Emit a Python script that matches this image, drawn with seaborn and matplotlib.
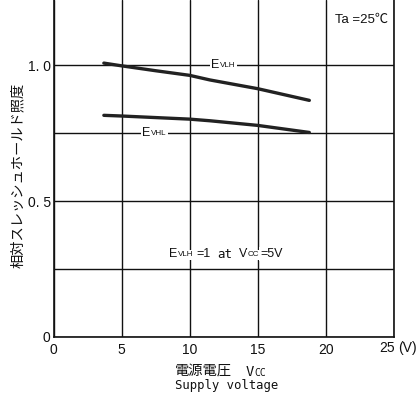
import numpy as np
import pandas as pd
import matplotlib
matplotlib.use("Agg")
import matplotlib.pyplot as plt
import seaborn as sns

################################
# data:
################################

vcc_vlh = [3.7, 5.0, 7.5, 10.0, 11.5, 15.0, 18.8]
evlh = [1.007, 0.997, 0.979, 0.962, 0.945, 0.913, 0.870]

vcc_vhl = [3.7, 5.0, 10.0, 11.5, 15.0, 18.8]
evhl = [0.815, 0.8125, 0.801, 0.795, 0.778, 0.752]

xticks = [0, 5, 10, 15, 20, 25]
xticklabels = ["0", "5", "10", "15", "20", ""]
yticks = [0, 0.25, 0.5, 0.75, 1.0]
yticklabels = ["0", "", "0. 5", "", "1. 0"]

################################
# style:
################################

sns.set_style("white")
mono = ["DejaVu Sans Mono", "Noto Sans CJK JP"]
narrow = ["Liberation Sans", "DejaVu Sans"]
jp = ["Noto Sans CJK JP", "DejaVu Sans"]
plt.rcParams["font.family"] = narrow
ink = "#111111"

W, H = 417, 398
fig = plt.figure(figsize=(W / 100, H / 100), dpi=100)
ax = fig.add_axes([53.5 / W, 1 - 337 / H, (393.7 - 53.5) / W, 337 / H])


def px(x):
    # pixel column of the reference -> volts
    return (x - 53.5) / 13.6


df_vlh = pd.DataFrame({"vcc": vcc_vlh, "e": evlh})
df_vhl = pd.DataFrame({"vcc": vcc_vhl, "e": evhl})
sns.lineplot(data=df_vlh, x="vcc", y="e", ax=ax, color="#222222", lw=2.4, zorder=4)
sns.lineplot(data=df_vhl, x="vcc", y="e", ax=ax, color="#222222", lw=2.4, zorder=4)

ax.set_xlim(0, 25)
ax.set_ylim(0, 1.239)
ax.set_xticks(xticks)
ax.set_xticklabels(xticklabels)
ax.set_yticks(yticks)
ax.set_yticklabels(yticklabels)
ax.tick_params(length=0, labelsize=10, colors=ink)
ax.tick_params(axis="x", pad=4)
ax.tick_params(axis="y", pad=2)
ax.grid(True, color=ink, lw=1.0)
ax.set_xlabel("")
ax.set_ylabel("")
for side in ["left", "bottom", "right"]:
    ax.spines[side].set_color(ink)
    ax.spines[side].set_linewidth(1.2)
ax.spines["top"].set_visible(False)

# last tick with its unit
fig.text(379 / W, 1 - 348 / H, "25", ha="left", va="center", fontsize=10,
         family=narrow, color=ink)
fig.text(398 / W, 1 - 348 / H, "(V)", ha="left", va="center", fontsize=10,
         family=narrow, color=ink)

# curve labels sitting on the grid lines
box = dict(facecolor="white", edgecolor="none", pad=1.0)
small = dict(fontsize=5.8, family=narrow, ha="left", va="center", color=ink,
             bbox=box, zorder=6)
big = dict(fontsize=9, family=narrow, ha="left", va="center", color=ink,
           bbox=box, zorder=5)
ax.text(px(211), 1.0, "E", **big)
ax.text(px(220), 0.997, "VLH", **small)
ax.text(px(142), 0.75, "E", **big)
ax.text(px(151), 0.747, "VHL", **small)

# condition note
ax.text(px(169), 0.305, "E", **big)
ax.text(px(178), 0.302, "VLH", **small)
ax.text(px(196), 0.305, "=1", **big)
ax.text(px(217), 0.305, "at", fontsize=9, family=mono, ha="left", va="center",
        color=ink, bbox=box, zorder=5)
ax.text(px(239), 0.305, "V", **big)
ax.text(px(247.5), 0.302, "CC", **small)
ax.text(px(260), 0.305, "=5V", **big)

ax.text(20.7, 1.165, "Ta =25℃", fontsize=9.5,
        family=["Liberation Sans", "Noto Sans CJK JP"],
        ha="left", va="center", color=ink)

# axis titles
fig.text(18 / W, 1 - 175 / H, "相対スレッシュホールド照度", rotation=90, ha="center",
         va="center", fontsize=10.3, family=jp, color=ink)
fig.text(175 / W, 1 - 372 / H, "電源電圧", ha="left", va="center", fontsize=10.3,
         family=jp, color=ink)
fig.text(246 / W, 1 - 372 / H, "V", ha="left", va="center", fontsize=10,
         family=mono, color=ink)
fig.text(254 / W, 1 - 373 / H, "CC", ha="left", va="center", fontsize=7,
         family=mono, color=ink)
fig.text(175 / W, 1 - 385 / H, "Supply voltage", ha="left", va="center", fontsize=8.8,
         family=mono, color=ink)

fig.savefig("out.png", dpi=100)
